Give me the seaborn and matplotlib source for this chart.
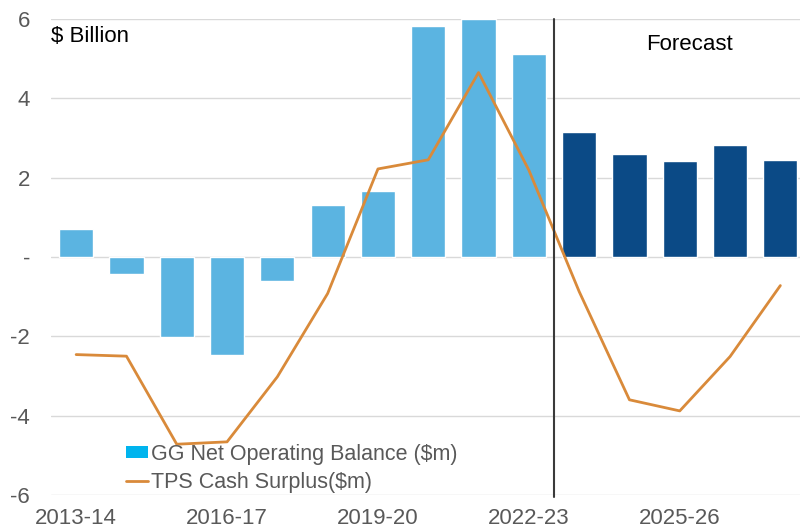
import matplotlib
matplotlib.use("Agg")
import matplotlib.pyplot as plt
import seaborn as sns
import pandas as pd
from matplotlib.patches import Patch
from matplotlib.lines import Line2D

years = ["2013-14", "2014-15", "2015-16", "2016-17", "2017-18", "2018-19",
         "2019-20", "2020-21", "2021-22", "2022-23", "2023-24", "2024-25",
         "2025-26", "2026-27", "2027-28"]
net_operating_balance = [0.71, -0.43, -2.01, -2.47, -0.61, 1.31, 1.66, 5.83,
                         6.0, 5.11, 3.14, 2.60, 2.42, 2.82, 2.45]
cash_surplus = [-2.46, -2.50, -4.72, -4.66, -3.02, -0.92, 2.22, 2.45, 4.65,
                2.19, -0.87, -3.60, -3.88, -2.51, -0.72]
period = ["Actual"] * 10 + ["Forecast"] * 5
shown_ticks = ["2013-14", "2016-17", "2019-20", "2022-23", "2025-26"]
y_ticks = [-6, -4, -2, 0, 2, 4, 6]
y_tick_labels = ["-6", "-4", "-2", "-", "2", "4", "6"]

df = pd.DataFrame({"year": years, "nob": net_operating_balance,
                   "tps": cash_surplus, "period": period})

sns.set_theme(style="white")
plt.rcParams["font.family"] = ["Liberation Sans", "DejaVu Sans"]

fig = plt.figure(figsize=(8.0, 5.31), dpi=100)
ax = fig.add_axes([51 / 800, 36 / 531, 754.5 / 800, 476 / 531])

light_blue = "#5BB4E1"
navy = "#0B4A86"
orange = "#D98A3A"
grey_text = "#595959"

sns.barplot(data=df, x="year", y="nob", hue="period",
            palette={"Actual": light_blue, "Forecast": navy},
            dodge=False, width=0.68, saturation=1, legend=False, ax=ax, zorder=2)
sns.lineplot(x=list(range(len(years))), y=cash_surplus, color=orange,
             linewidth=2.0, ax=ax, zorder=3)

ax.set_xlim(-0.5, len(years) - 0.5)
ax.set_ylim(-6, 6)
ax.set_yticks(y_ticks)
ax.set_yticklabels(y_tick_labels)
ax.yaxis.grid(True, color="#D9D9D9", linewidth=1.0, zorder=0)
ax.set_axisbelow(True)

tick_pos = [years.index(t) for t in shown_ticks]
ax.set_xticks(tick_pos)
ax.set_xticklabels(shown_ticks)
ax.tick_params(axis="both", length=0, labelsize=16, colors=grey_text)
ax.tick_params(axis="y", pad=15)
ax.tick_params(axis="x", pad=9.5)
ax.set_xlabel("")
ax.set_ylabel("")
for s in ax.spines.values():
    s.set_visible(False)

# Boundary between actuals and forecast years
split = years.index("2023-24") - 0.5
ax.plot([split, split], [-6.06, 6.0], color="#3A3A3A", linewidth=1.5,
        clip_on=False, zorder=4)

ax.text(-0.5, 5.55, "$ Billion", fontsize=16, color="black",
        ha="left", va="center")
ax.text(12.2, 5.35, "Forecast", fontsize=16, color="black",
        ha="center", va="center")

handles = [Patch(facecolor="#00B4EE", edgecolor="none"),
           Line2D([0], [0], color=orange, linewidth=2.0)]
labels = ["GG Net Operating Balance ($m)", "TPS Cash Surplus($m)"]
ax.legend(handles, labels, loc="lower left", bbox_to_anchor=(0.088, -0.014),
          frameon=False, fontsize=15.5, labelcolor=grey_text,
          handlelength=1.0, handleheight=0.45, handletextpad=0.15,
          labelspacing=0.35, borderaxespad=0)

fig.savefig("out.png", dpi=100)
